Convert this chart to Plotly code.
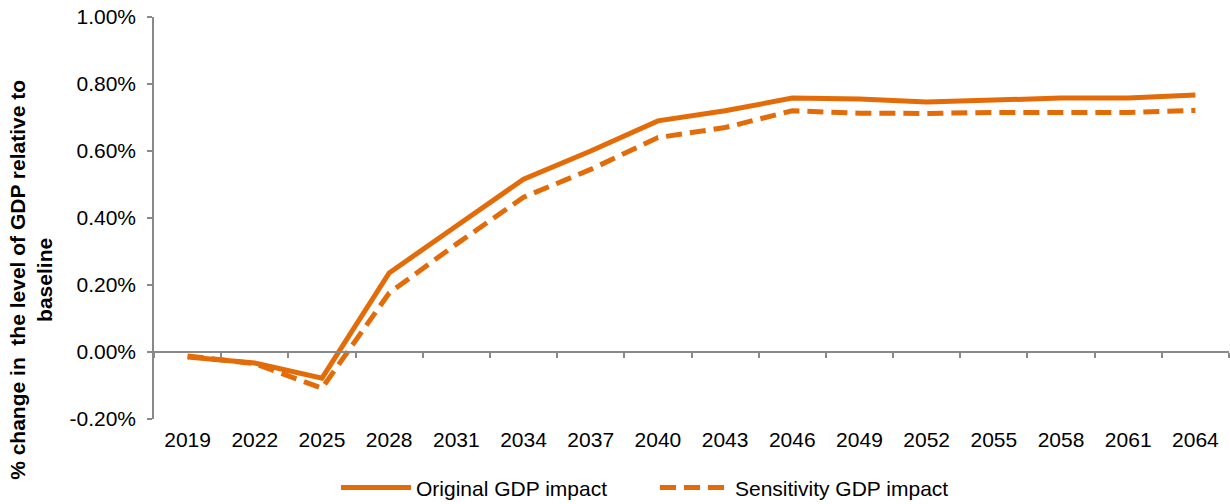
import plotly.graph_objects as go

years = ["2019", "2022", "2025", "2028", "2031", "2034", "2037", "2040",
         "2043", "2046", "2049", "2052", "2055", "2058", "2061", "2064"]
original = [-0.015, -0.033, -0.078, 0.236, 0.376, 0.516, 0.600, 0.690,
            0.720, 0.758, 0.755, 0.746, 0.752, 0.758, 0.758, 0.767]
sensitivity = [-0.012, -0.035, -0.108, 0.176, 0.322, 0.462, 0.545, 0.640,
               0.670, 0.720, 0.713, 0.712, 0.715, 0.716, 0.715, 0.721]
y_ticks = [-0.2, 0.0, 0.2, 0.4, 0.6, 0.8, 1.0]
y_labels = ["-0.20%", "0.00%", "0.20%", "0.40%", "0.60%", "0.80%", "1.00%"]

color = "#E36C09"
axis_color = "#898989"
font_family = "Liberation Sans, Arial, sans-serif"
fs = 21

fig = go.Figure()
fig.add_trace(go.Scatter(x=years, y=original, mode="lines", name="Original GDP impact",
                         line=dict(color=color, width=5), xaxis="x"))
fig.add_trace(go.Scatter(x=years, y=sensitivity, mode="lines", name="Sensitivity GDP impact",
                         line=dict(color=color, width=5, dash="16px,8px"), xaxis="x"))
# invisible trace for the label axis
fig.add_trace(go.Scatter(x=years, y=original, mode="lines", opacity=0, showlegend=False,
                         hoverinfo="skip", xaxis="x2"))

ymin, ymax = -0.2, 1.0
zero_pos = (0 - ymin) / (ymax - ymin)

fig.update_layout(
    width=1230, height=504,
    margin=dict(l=154, r=1, t=17, b=85, autoexpand=False),
    paper_bgcolor="white", plot_bgcolor="white",
    font=dict(family=font_family, size=fs, color="black"),
    showlegend=True,
    legend=dict(orientation="h", x=0.1693, xanchor="left", y=-0.12, yanchor="top",
                font=dict(size=fs), itemwidth=70, tracegroupgap=0,
                entrywidth=234),
    xaxis=dict(type="category", categoryorder="array", categoryarray=years,
               anchor="free", position=zero_pos, showline=True, linecolor=axis_color,
               linewidth=1.5, ticks="outside", tickson="boundaries", ticklen=5,
               tickcolor=axis_color, tickwidth=1.5, showticklabels=False,
               showgrid=False, zeroline=False, range=[-0.5, 15.5]),
    xaxis2=dict(type="category", categoryorder="array", categoryarray=years,
                overlaying="x", matches="x", anchor="y", side="bottom",
                showline=False, ticks="", showgrid=False, zeroline=False,
                ticklabelstandoff=6, tickfont=dict(size=fs)),
    yaxis=dict(range=[ymin, ymax], tickvals=y_ticks, ticktext=y_labels,
               showline=True, linecolor=axis_color, linewidth=1.5,
               ticks="outside", ticklen=5, tickcolor=axis_color, tickwidth=1.5,
               showgrid=False, zeroline=False, tickfont=dict(size=fs),
               ticklabelstandoff=7),
    annotations=[dict(
        text="<b>% change in  the level of GDP relative to<br>baseline</b>",
        textangle=-90, xref="paper", yref="paper", x=-0.1145, y=0.346,
        xanchor="center", yanchor="middle", showarrow=False,
        font=dict(size=fs, family=font_family), align="center")],
)

fig.write_html("out.html", config={"displayModeBar": False},
               post_script="document.body.style.margin='0';")
